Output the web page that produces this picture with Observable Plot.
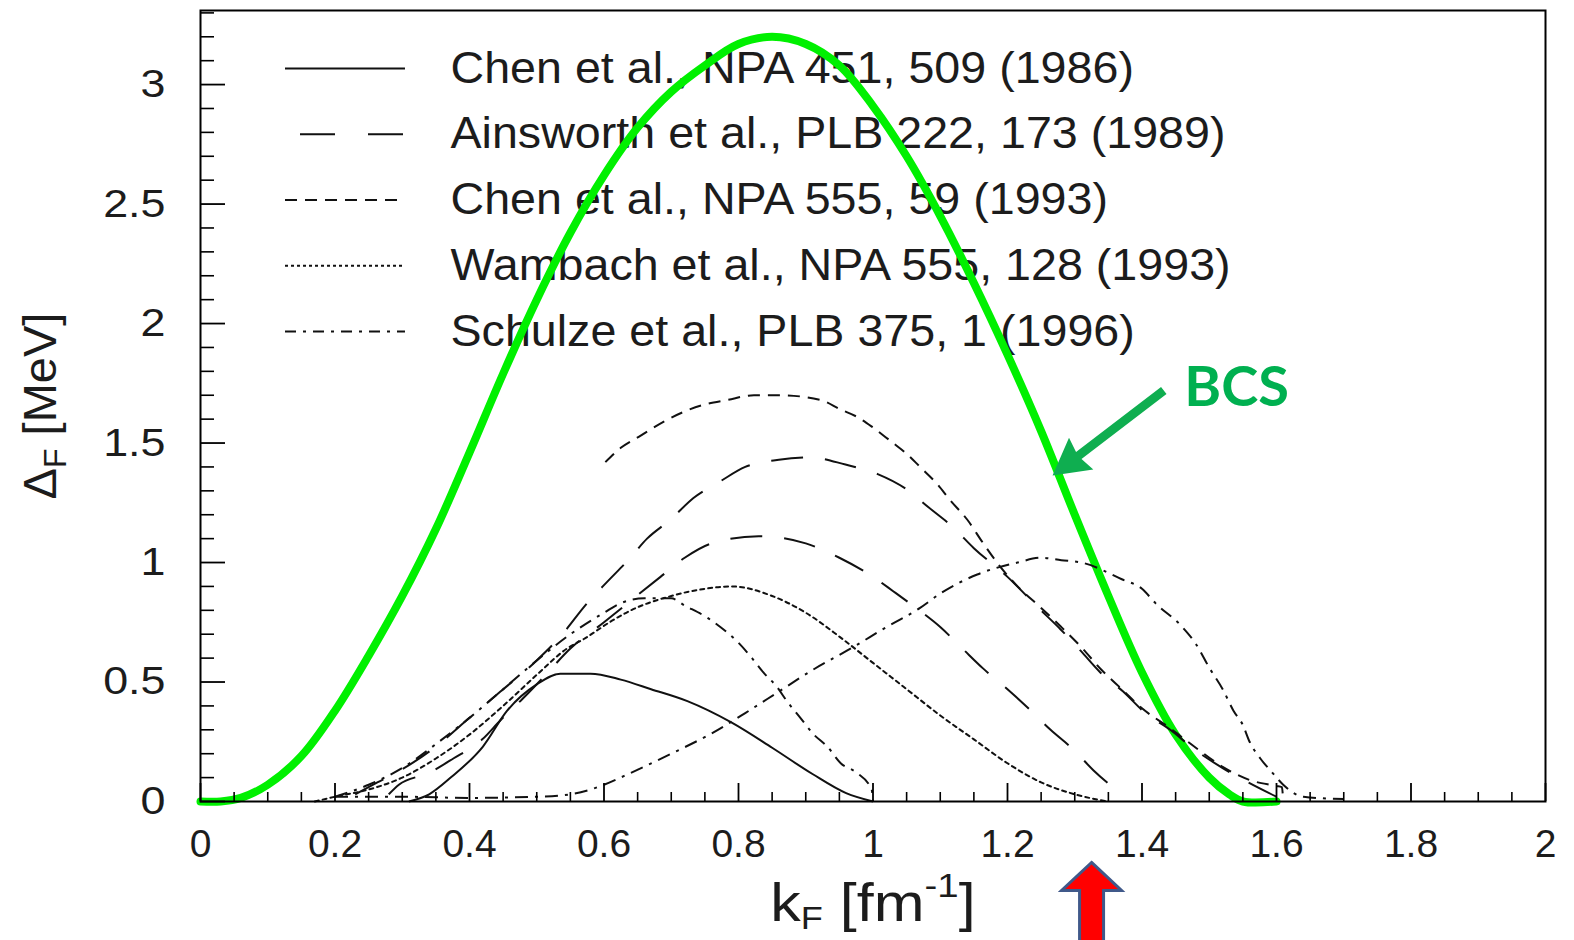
<!DOCTYPE html>
<html>
<head>
<meta charset="utf-8">
<script src="https://cdn.jsdelivr.net/npm/d3@7"></script>
<script src="https://cdn.jsdelivr.net/npm/@observablehq/plot@0.6"></script>
<style>
  html, body { margin: 0; padding: 0; background: #fff; }
  #chart { width: 1574px; height: 940px; overflow: hidden; }
  #chart svg { display: block; }
</style>
</head>
<body>
<div id="chart"></div>
<script>
// ---------------- data ----------------
// BCS gap (thick green)
const bcsK   = [0, 0.03, 0.06, 0.1, 0.15, 0.2, 0.25, 0.3, 0.35, 0.4, 0.45, 0.5, 0.55, 0.6, 0.65, 0.7, 0.75, 0.8, 0.85, 0.9, 0.95, 1.0, 1.05, 1.1, 1.15, 1.2, 1.25, 1.3, 1.35, 1.4, 1.45, 1.5, 1.53, 1.55, 1.6];
const bcsGap = [0, 0, 0.015, 0.07, 0.19, 0.38, 0.61, 0.86, 1.14, 1.46, 1.79, 2.1, 2.38, 2.62, 2.82, 2.97, 3.08, 3.17, 3.2, 3.17, 3.08, 2.91, 2.7, 2.45, 2.17, 1.87, 1.55, 1.2, 0.86, 0.54, 0.28, 0.1, 0.03, 0.0, 0.0];

// Chen et al. 1986 (solid)
const chen86K   = [0.31, 0.34, 0.372, 0.42, 0.456, 0.5, 0.535, 0.58, 0.625, 0.67, 0.724, 0.79, 0.85, 0.91, 0.96, 1.0];
const chen86Gap = [0, 0.03, 0.1, 0.23, 0.38, 0.49, 0.535, 0.535, 0.51, 0.47, 0.42, 0.33, 0.225, 0.115, 0.035, 0];

// Ainsworth et al. 1989 (long dash), two curves
const ainsAK   = [0.23, 0.263, 0.297, 0.35, 0.4, 0.446, 0.496, 0.535, 0.575, 0.605, 0.636, 0.664, 0.699, 0.733, 0.773, 0.81, 0.86, 0.907, 0.959, 1.007, 1.048, 1.083, 1.118, 1.15, 1.2, 1.246, 1.279, 1.309, 1.338, 1.372, 1.405, 1.442, 1.477, 1.52, 1.558, 1.6];
const ainsAGap = [0.03, 0.08, 0.13, 0.23, 0.35, 0.46, 0.58, 0.69, 0.83, 0.92, 1.01, 1.10, 1.18, 1.27, 1.34, 1.40, 1.43, 1.44, 1.41, 1.37, 1.31, 1.23, 1.15, 1.06, 0.94, 0.81, 0.72, 0.63, 0.54, 0.46, 0.37, 0.30, 0.22, 0.14, 0.08, 0.02];
const ainsBK   = [0.28, 0.295, 0.34, 0.376, 0.419, 0.446, 0.479, 0.51, 0.55, 0.6, 0.644, 0.684, 0.72, 0.76, 0.83, 0.9, 0.95, 1.0, 1.03, 1.064, 1.10, 1.133, 1.164, 1.2, 1.231, 1.264, 1.297, 1.328, 1.37];
const ainsBGap = [0.03, 0.07, 0.12, 0.18, 0.26, 0.34, 0.43, 0.52, 0.64, 0.75, 0.85, 0.94, 1.02, 1.08, 1.11, 1.08, 1.02, 0.94, 0.88, 0.81, 0.73, 0.64, 0.556, 0.47, 0.39, 0.30, 0.22, 0.13, 0.03];

// Chen et al. 1993 (short dash)
const chen93K   = [0.602, 0.625, 0.654, 0.689, 0.718, 0.748, 0.783, 0.823, 0.862, 0.922, 0.952, 0.976, 1.0, 1.03, 1.05, 1.07, 1.095, 1.115, 1.14, 1.164, 1.19, 1.215, 1.25, 1.28, 1.31, 1.34, 1.37, 1.4, 1.44, 1.48, 1.52, 1.56, 1.6, 1.608, 1.61];
const chen93Gap = [1.42, 1.48, 1.53, 1.59, 1.63, 1.66, 1.68, 1.70, 1.70, 1.68, 1.64, 1.61, 1.565, 1.50, 1.455, 1.40, 1.33, 1.26, 1.18, 1.08, 0.98, 0.90, 0.81, 0.73, 0.645, 0.55, 0.47, 0.39, 0.31, 0.225, 0.145, 0.09, 0.065, 0.06, 0];

// Wambach et al. 1993 (dotted)
const wambK   = [0.17, 0.2, 0.25, 0.3, 0.35, 0.4, 0.45, 0.5, 0.545, 0.57, 0.614, 0.64, 0.7, 0.75, 0.79, 0.85, 0.9, 0.95, 1.0, 1.05, 1.1, 1.15, 1.2, 1.25, 1.3, 1.35];
const wambGap = [0.0, 0.02, 0.05, 0.1, 0.18, 0.28, 0.4, 0.53, 0.64, 0.68, 0.76, 0.8, 0.86, 0.89, 0.9, 0.86, 0.79, 0.69, 0.58, 0.47, 0.36, 0.26, 0.16, 0.08, 0.03, 0.0];

// Schulze et al. 1996 (dash-dot), two curves
const schAK   = [0.2, 0.25, 0.3, 0.35, 0.4, 0.45, 0.5, 0.55, 0.6, 0.625, 0.66, 0.7, 0.72, 0.753, 0.773, 0.798, 0.82, 0.837, 0.857, 0.872, 0.892, 0.912, 0.932, 0.952, 0.976, 0.998, 1.0];
const schAGap = [0.02, 0.07, 0.14, 0.24, 0.35, 0.47, 0.59, 0.7, 0.79, 0.83, 0.85, 0.85, 0.82, 0.77, 0.73, 0.67, 0.60, 0.54, 0.48, 0.42, 0.35, 0.28, 0.23, 0.16, 0.12, 0.05, 0];
const schBK   = [0.2, 0.3, 0.4, 0.5, 0.55, 0.58, 0.6, 0.64, 0.7, 0.76, 0.81, 0.86, 0.91, 0.97, 1.02, 1.07, 1.1, 1.155, 1.215, 1.25, 1.28, 1.31, 1.37, 1.40, 1.42, 1.46, 1.48, 1.5, 1.52, 1.536, 1.55, 1.56, 1.576, 1.594, 1.61, 1.64, 1.7];
const schBGap = [0.02, 0.02, 0.015, 0.02, 0.03, 0.05, 0.07, 0.12, 0.2, 0.285, 0.37, 0.46, 0.55, 0.645, 0.73, 0.81, 0.87, 0.95, 1.0, 1.02, 1.01, 1.0, 0.93, 0.89, 0.83, 0.73, 0.66, 0.56, 0.47, 0.38, 0.32, 0.25, 0.18, 0.12, 0.07, 0.02, 0.01];

// legend
const legendNames = [
  "Chen et al., NPA 451, 509 (1986)",
  "Ainsworth et al., PLB 222, 173 (1989)",
  "Chen et al., NPA 555, 59 (1993)",
  "Wambach et al., NPA 555, 128 (1993)",
  "Schulze et al., PLB 375, 1 (1996)"
];

// ticks
const xMajor = d3.range(0, 11).map(i => +(i * 0.2).toFixed(2));
const xMinor = d3.range(0, 41).map(i => +(i * 0.05).toFixed(2)).filter(v => !xMajor.includes(v));
const yMajor = d3.range(0, 7).map(i => i * 0.5);
const yMinor = d3.range(0, 34).map(i => +(i * 0.1).toFixed(1)).filter(v => !yMajor.includes(v));

// ---------------- styling / layout ----------------
const W = 1574, H = 940;
const dashStyles = {solid: null, long: "32,22", short: "12,8", dot: "4,4", dashdot: "13,7,3,7"};
const legendDashStyles = {solid: null, long: "35,33", short: "12,8", dot: "3,3", dashdot: "11,7,3,7"};
const legendDash = ["solid", "long", "short", "dot", "dashdot"];

const rows = (k, g) => k.map((x, i) => ({k: x, g: g[i]}));
const curves = [
  {data: rows(chen86K, chen86Gap), style: "solid"},
  {data: rows(ainsAK, ainsAGap), style: "long"},
  {data: rows(ainsBK, ainsBGap), style: "long"},
  {data: rows(chen93K, chen93Gap), style: "short"},
  {data: rows(wambK, wambGap), style: "dot"},
  {data: rows(schAK, schAGap), style: "dashdot"},
  {data: rows(schBK, schBGap), style: "dashdot"}
];

// legend placement in data units
const legX1 = 0.1264, legX1Long = 0.1487, legX2 = 0.3048, legTextX = 0.3717;
const legY0 = 3.067, legStep = 0.275;
const legendRows = legendNames.map((name, i) => ({name, i, y: legY0 - i * legStep, style: legendDash[i]}));

const fontMain = "'Liberation Sans', Arial, Helvetica, sans-serif";
const fmt = d => String(+d.toFixed(1));

// annotation shapes (pixel geometry, anchored at a data point)
const bcsArrowShape = {
  draw(ctx, l) {
    const hl = 36, hw = 20, sw = 4.5;
    ctx.moveTo(0, 0);
    ctx.lineTo(hw, hl);
    ctx.lineTo(sw, hl - 3);
    ctx.lineTo(sw, l);
    ctx.lineTo(-sw, l);
    ctx.lineTo(-sw, hl - 3);
    ctx.lineTo(-hw, hl);
    ctx.closePath();
  }
};
const redArrowShape = {
  draw(ctx, l) {
    const hl = 28, hw = 30, sw = 12;
    ctx.moveTo(0, 0);
    ctx.lineTo(hw, hl);
    ctx.lineTo(sw, hl);
    ctx.lineTo(sw, l);
    ctx.lineTo(-sw, l);
    ctx.lineTo(-sw, hl);
    ctx.lineTo(-hw, hl);
    ctx.closePath();
  }
};
const bcsArrowTip = [{k: 1.267, g: 1.364}];
const bcsLabel = [{k: 1.463, g: 1.728, text: "BCS"}];
const redArrowTip = [{k: 1.325, g: -0.255}];

const marks = [];

// legend
legendRows.forEach((r) => {
  marks.push(Plot.ruleY([r], {
    y: "y", x1: r.style === "long" ? legX1Long : legX1, x2: legX2, stroke: "#111", strokeWidth: 2,
    strokeDasharray: legendDashStyles[r.style] || undefined, strokeLinecap: "butt"
  }));
});
marks.push(Plot.text(legendRows, {
  x: legTextX, y: "y", text: "name", textAnchor: "start", lineAnchor: "middle",
  fontSize: 44, fill: "#1c1c1c"
}));

// BCS thick green
marks.push(Plot.line(rows(bcsK, bcsGap), {x: "k", y: "g", stroke: "#00f000", strokeWidth: 8, curve: "catmull-rom"}));

// other calculations
curves.forEach(c => {
  marks.push(Plot.line(c.data, {
    x: "k", y: "g", stroke: "#111", strokeWidth: 2, curve: "monotone-x",
    strokeDasharray: dashStyles[c.style] || undefined,
    strokeLinecap: c.style === "dot" ? "round" : "butt"
  }));
});

// frame + axes
marks.push(Plot.frame({stroke: "#000", strokeWidth: 2}));
marks.push(Plot.axisX(xMinor, {tickSize: -9, stroke: "#000", strokeWidth: 1.6, fill: "none", tickFormat: () => "", label: null}));
marks.push(Plot.axisX(xMajor, {tickSize: -18, stroke: "#000", strokeWidth: 1.8, fill: "none", tickFormat: () => "", label: null}));
marks.push(Plot.axisX(xMajor, {tickSize: 0, tickPadding: 28, fontSize: 39, fill: "#1c1c1c", tickFormat: fmt, label: null}));
marks.push(Plot.axisY(yMinor, {tickSize: -14, stroke: "#000", strokeWidth: 1.6, fill: "none", tickFormat: () => "", label: null}));
marks.push(Plot.axisY(yMajor, {tickSize: -25, stroke: "#000", strokeWidth: 1.8, fill: "none", tickFormat: () => "", label: null}));
marks.push(Plot.axisY(yMajor, {tickSize: 0, tickPadding: 35, fontSize: 39, fill: "#1c1c1c", tickFormat: fmt, label: null}));

// axis titles (sub/superscripts added below)
marks.push(Plot.text(["ΔF [MeV]"], {text: d => d, frameAnchor: "left", dx: -160, rotate: -90, textAnchor: "middle", lineAnchor: "middle", fontSize: 47, fill: "#1c1c1c"}));
marks.push(Plot.text(["kF [fm-1]"], {text: d => d, frameAnchor: "bottom", dy: 119, textAnchor: "middle", lineAnchor: "bottom", fontSize: 54, fill: "#1c1c1c"}));

// BCS annotation
marks.push(Plot.vector(bcsArrowTip, {x: "k", y: "g", length: 140, rotate: -127.4, anchor: "start", shape: bcsArrowShape, fill: "#0fae50", stroke: "none"}));
marks.push(Plot.text(bcsLabel, {x: "k", y: "g", text: "text", textAnchor: "start", lineAnchor: "middle", fontFamily: "Lato, 'Open Sans', sans-serif", fontWeight: "bold", fontSize: 56, fill: "#00b050"}));

// red arrow below the axis
marks.push(Plot.vector(redArrowTip, {x: "k", y: "g", length: 120, rotate: 0, anchor: "start", shape: redArrowShape, fill: "#ff0000", stroke: "#40598a", strokeWidth: 3, strokeLinejoin: "miter"}));

const plot = Plot.plot({
  width: W, height: H,
  marginLeft: 200, marginRight: 29, marginTop: 10, marginBottom: 139,
  x: {domain: [0, 2], label: null},
  y: {domain: [0, 3.31], label: null},
  style: {fontFamily: fontMain, background: "#fff", overflow: "hidden"},
  marks
});

document.getElementById("chart").appendChild(plot);

// rich text for axis titles, slight horizontal widening of some texts
const NS = "http://www.w3.org/2000/svg";
function tspan(parent, txt, attrs) {
  const t = document.createElementNS(NS, "tspan");
  for (const k in attrs) t.setAttribute(k, attrs[k]);
  t.textContent = txt;
  parent.appendChild(t);
}
function widen(t, s) {
  const tr = t.getAttribute("transform") || "";
  t.setAttribute("transform", tr + ` scale(${s},1)`);
}
plot.querySelectorAll("text").forEach(t => {
  const s = t.textContent;
  if (s === "ΔF [MeV]") {
    t.textContent = "";
    tspan(t, "Δ", {});
    tspan(t, "F", {"font-size": "32", dy: "10"});
    tspan(t, " [MeV]", {dy: "-10"});
  } else if (s === "kF [fm-1]") {
    t.textContent = "";
    tspan(t, "k", {});
    tspan(t, "F", {"font-size": "32", dy: "8"});
    tspan(t, " [fm", {dy: "-8"});
    tspan(t, "-1", {"font-size": "34", dy: "-24"});
    tspan(t, "]", {dy: "24"});
    widen(t, 1.13);
  } else if (legendNames.includes(s)) {
    widen(t, 1.06);
  }
});
plot.querySelectorAll('g[aria-label="y-axis tick label"] text').forEach(t => widen(t, 1.15));
</script>
</body>
</html>
